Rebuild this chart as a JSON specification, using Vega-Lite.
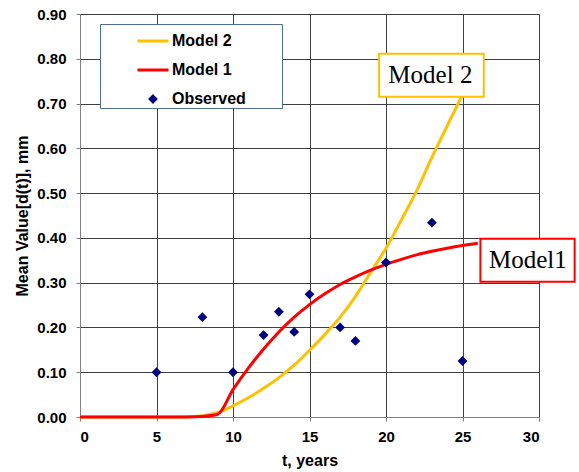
{
  "$schema": "https://vega.github.io/schema/vega-lite/v6.json",
  "width": 459,
  "height": 403,
  "autosize": {"type": "none"},
  "padding": {"left": 80, "top": 14, "right": 40, "bottom": 55},
  "config": {
    "view": {"stroke": "#808080", "strokeWidth": 1},
    "font": "Liberation Sans",
    "axis": {
      "labelFont": "Liberation Sans",
      "labelFontWeight": "bold",
      "labelFontSize": 15,
      "labelColor": "#000000",
      "titleFont": "Liberation Sans",
      "titleFontWeight": "bold",
      "titleFontSize": 16,
      "titleColor": "#000000",
      "domainColor": "#808080",
      "tickColor": "#808080",
      "tickSize": 4,
      "gridColor": "#404040",
      "gridWidth": 1,
      "gridOpacity": 1
    }
  },
  "datasets": {
    "curves": [
      {"t": 0, "d": 0, "series": "Model 2"},
      {"t": 1, "d": 0, "series": "Model 2"},
      {"t": 2, "d": 0, "series": "Model 2"},
      {"t": 3, "d": 0, "series": "Model 2"},
      {"t": 4, "d": 0, "series": "Model 2"},
      {"t": 5, "d": 0, "series": "Model 2"},
      {"t": 6, "d": 0, "series": "Model 2"},
      {"t": 7, "d": 0.0005, "series": "Model 2"},
      {"t": 8, "d": 0.003, "series": "Model 2"},
      {"t": 9, "d": 0.01, "series": "Model 2"},
      {"t": 10, "d": 0.025, "series": "Model 2"},
      {"t": 11, "d": 0.043, "series": "Model 2"},
      {"t": 12, "d": 0.064, "series": "Model 2"},
      {"t": 13, "d": 0.088, "series": "Model 2"},
      {"t": 14, "d": 0.116, "series": "Model 2"},
      {"t": 15, "d": 0.149, "series": "Model 2"},
      {"t": 16, "d": 0.184, "series": "Model 2"},
      {"t": 17, "d": 0.223, "series": "Model 2"},
      {"t": 18, "d": 0.269, "series": "Model 2"},
      {"t": 19, "d": 0.323, "series": "Model 2"},
      {"t": 20, "d": 0.377, "series": "Model 2"},
      {"t": 21, "d": 0.44, "series": "Model 2"},
      {"t": 22, "d": 0.505, "series": "Model 2"},
      {"t": 23, "d": 0.58, "series": "Model 2"},
      {"t": 24, "d": 0.65, "series": "Model 2"},
      {"t": 25, "d": 0.72, "series": "Model 2"},
      {"t": 0, "d": 0, "series": "Model 1"},
      {"t": 1, "d": 0, "series": "Model 1"},
      {"t": 2, "d": 0, "series": "Model 1"},
      {"t": 3, "d": 0, "series": "Model 1"},
      {"t": 4, "d": 0, "series": "Model 1"},
      {"t": 5, "d": 0, "series": "Model 1"},
      {"t": 6, "d": 0, "series": "Model 1"},
      {"t": 7, "d": 0, "series": "Model 1"},
      {"t": 8, "d": 0.001, "series": "Model 1"},
      {"t": 9, "d": 0.006, "series": "Model 1"},
      {"t": 10, "d": 0.061, "series": "Model 1"},
      {"t": 11, "d": 0.109, "series": "Model 1"},
      {"t": 12, "d": 0.152, "series": "Model 1"},
      {"t": 13, "d": 0.19, "series": "Model 1"},
      {"t": 14, "d": 0.223, "series": "Model 1"},
      {"t": 15, "d": 0.251, "series": "Model 1"},
      {"t": 16, "d": 0.275, "series": "Model 1"},
      {"t": 17, "d": 0.296, "series": "Model 1"},
      {"t": 18, "d": 0.313, "series": "Model 1"},
      {"t": 19, "d": 0.328, "series": "Model 1"},
      {"t": 20, "d": 0.341, "series": "Model 1"},
      {"t": 21, "d": 0.352, "series": "Model 1"},
      {"t": 22, "d": 0.362, "series": "Model 1"},
      {"t": 23, "d": 0.37, "series": "Model 1"},
      {"t": 24, "d": 0.377, "series": "Model 1"},
      {"t": 25, "d": 0.383, "series": "Model 1"},
      {"t": 26, "d": 0.388, "series": "Model 1"}
    ],
    "observed": [
      {"t": 5, "d": 0.1, "series": "Observed"},
      {"t": 8, "d": 0.223, "series": "Observed"},
      {"t": 10, "d": 0.1, "series": "Observed"},
      {"t": 12, "d": 0.183, "series": "Observed"},
      {"t": 13, "d": 0.235, "series": "Observed"},
      {"t": 14, "d": 0.19, "series": "Observed"},
      {"t": 15, "d": 0.274, "series": "Observed"},
      {"t": 17, "d": 0.2, "series": "Observed"},
      {"t": 18, "d": 0.17, "series": "Observed"},
      {"t": 20, "d": 0.345, "series": "Observed"},
      {"t": 23, "d": 0.434, "series": "Observed"},
      {"t": 25, "d": 0.125, "series": "Observed"}
    ],
    "callouts": [
      {"series": "Model 2", "text": "Model 2", "t1": 19.55, "t2": 26.39, "v1": 0.715, "v2": 0.811, "tc": 22.9, "vc": 0.763},
      {"series": "Model 1", "text": "Model1", "t1": 26.17, "t2": 32.33, "v1": 0.302, "v2": 0.398, "tc": 29.27, "vc": 0.35}
    ]
  },
  "encoding": {
    "x": {
      "field": "t",
      "type": "quantitative",
      "scale": {"domain": [0, 30], "nice": false},
      "axis": {
        "title": "t, years",
        "values": [0, 5, 10, 15, 20, 25, 30],
        "labelPadding": 8,
        "titlePadding": 8
      }
    },
    "y": {
      "field": "d",
      "type": "quantitative",
      "scale": {"domain": [0, 0.9], "nice": false},
      "axis": {
        "title": "Mean Value[d(t)], mm",
        "values": [0, 0.1, 0.2, 0.3, 0.4, 0.5, 0.6, 0.7, 0.8, 0.9],
        "format": ".2f",
        "labelPadding": 10,
        "titlePadding": 6
      }
    }
  },
  "layer": [
    {
      "data": {"name": "curves"},
      "mark": {"type": "line", "strokeWidth": 3, "interpolate": "monotone"},
      "encoding": {
        "stroke": {
          "field": "series",
          "type": "nominal",
          "sort": ["Model 2", "Model 1"],
          "scale": {"domain": ["Model 2", "Model 1"], "range": ["#FFC000", "#FF0000"]},
          "legend": null
        }
      }
    },
    {
      "data": {"name": "observed"},
      "mark": {"type": "point", "filled": false, "fill": "#000080", "strokeWidth": 3, "size": 961, "opacity": 1},
      "encoding": {
        "color": {
          "field": "series",
          "type": "nominal",
          "scale": {
            "domain": ["Model 2", "Model 1", "Observed"],
            "range": ["#FFC000", "#FF0000", "#000080"]
          },
          "legend": {
            "title": null,
            "orient": "none",
            "legendX": 20,
            "legendY": 10,
            "padding": 0,
            "fillColor": "#FFFFFF",
            "strokeColor": "#4F6D9A",
            "symbolSize": 961,
            "symbolOffset": 36,
            "symbolStrokeWidth": 3,
            "symbolOpacity": 1,
            "labelOffset": 2,
            "rowPadding": 4,
            "labelFont": "Liberation Sans",
            "labelFontWeight": "bold",
            "labelFontSize": 16,
            "labelColor": "#000000",
            "labelExpr": "datum.label + '        \u200b'"
          }
        },
        "shape": {
          "field": "series",
          "type": "nominal",
          "scale": {
            "domain": ["Model 2", "Model 1", "Observed"],
            "range": ["stroke", "stroke", "M0,-0.18L0.18,0L0,0.18L-0.18,0Z"]
          }
        }
      }
    },
    {
      "data": {"name": "callouts"},
      "mark": {"type": "rect", "fill": "#FFFFFF", "strokeWidth": 2},
      "encoding": {
        "x": {"field": "t1", "type": "quantitative"},
        "x2": {"field": "t2"},
        "y": {"field": "v1", "type": "quantitative"},
        "y2": {"field": "v2"},
        "stroke": {"field": "series", "type": "nominal", "legend": null}
      }
    },
    {
      "data": {"name": "callouts"},
      "mark": {
        "type": "text",
        "font": "Liberation Serif",
        "fontSize": 25,
        "color": "#000000",
        "align": "center",
        "baseline": "middle"
      },
      "encoding": {
        "x": {"field": "tc", "type": "quantitative"},
        "y": {"field": "vc", "type": "quantitative"},
        "text": {"field": "text"}
      }
    }
  ]
}
